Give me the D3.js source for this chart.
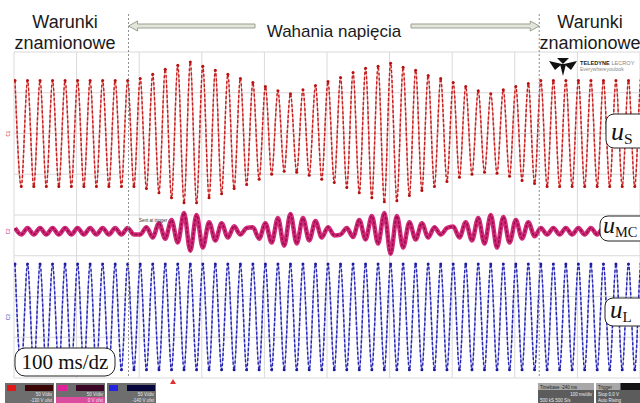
<!DOCTYPE html>
<html lang="pl">
<head>
<meta charset="UTF-8">
<title>Wahania napięcia</title>
<script src="https://d3js.org/d3.v7.min.js"></script>
<style>
  body { margin: 0; background: #fff; }
  svg { display: block; }
  .title { font-family: "Liberation Sans", Arial, sans-serif; fill: #1a1a1a; }
  .lbl { font-family: "Liberation Serif", "Times New Roman", serif; fill: #111; }
  .tiny { font-family: "Liberation Sans", Arial, sans-serif; font-size: 4.5px; }
</style>
</head>
<body>
<svg width="640" height="403"></svg>
<script>
// 50 Hz mains, 100 ms/div, 10 divisions on screen
var periodMs = 20, phaseMs = 1.6, voltsPerDiv = 250;

// u_S: positive and negative peak of each cycle [V]
var sPeaks = [325, 325, 325, 325, 325, 325, 325, 325, 325, 325,
  338, 363, 394, 419, 438, 413, 388, 363, 338, 313,
  288, 263, 244, 269, 294, 319, 344, 375, 400, 413,
  431, 406, 388, 356, 338, 313, 288, 263, 244, 269,
  288, 306, 325, 325, 325, 325, 325, 325, 325, 325, 325];
var sTroughs = [-325, -325, -325, -325, -325, -325, -325, -325, -325, -325,
  -338, -363, -394, -425, -425, -394, -369, -338, -313, -281,
  -250, -231, -238, -256, -281, -300, -331, -363, -394, -419,
  -413, -381, -350, -325, -294, -269, -250, -238, -244, -263,
  -288, -306, -325, -325, -325, -325, -325, -325, -325, -325, -325];

// u_L: load voltage stays at nominal
var lPeaks = [325, 325, 325, 325, 325, 325, 325, 325, 325, 325,
  325, 325, 325, 325, 325, 325, 325, 325, 325, 325,
  325, 325, 325, 325, 325, 325, 325, 325, 325, 325,
  325, 325, 325, 325, 325, 325, 325, 325, 325, 325,
  325, 325, 325, 325, 325, 325, 325, 325, 325, 325, 325];
var lTroughs = [-325, -325, -325, -325, -325, -325, -325, -325, -325, -325,
  -325, -325, -325, -325, -325, -325, -325, -325, -325, -325,
  -325, -325, -325, -325, -325, -325, -325, -325, -325, -325,
  -325, -325, -325, -325, -325, -325, -325, -325, -325, -325,
  -325, -325, -325, -325, -325, -325, -325, -325, -325, -325, -325];

// u_MC: compensator voltage, sampled at the u_S peak and trough instants [V]
var mcAtPeak = [20, 20, 20, 20, 20, 20, 20, 20, 20, 20,
  -20, -38, -45, -69, -119, -100, -56, -38, -20, 25,
  50, 81, 106, 81, 63, 25, -20, -35, -50, -75,
  -138, -100, -50, -38, -20, 30, 56, 81, 100, 88,
  69, 56, 20, 20, 20, 20, 20, 20, 20, 20, 20];
var mcAtTrough = [-20, -20, -20, -20, -20, -20, -20, -20, -20, -20,
  25, 50, 69, 113, 100, 56, 50, 31, 20, -45,
  -69, -88, -75, -56, -38, -25, 20, 69, 94, 113,
  94, 56, 50, 25, 20, -38, -56, -75, -100, -69,
  -44, -30, -20, -20, -20, -20, -20, -20, -20, -20, -20];

var topTexts = ["Warunki", "znamionowe"];
var middleText = "Wahania napięcia";

var svg = d3.select("svg");

var plot = {left: 14, right: 640, top: 52, bottom: 378};
var x = d3.scaleLinear().domain([0, 1000]).range([plot.left, plot.right]);
var yDiv = d3.scaleLinear().domain([0, 8]).range([plot.top, plot.bottom]);
var divPx = yDiv(1) - yDiv(0);

function channelScale(centerDiv) {
    var c = yDiv(centerDiv);
    return d3.scaleLinear().domain([-voltsPerDiv, voltsPerDiv]).range([c + divPx, c - divPx]);
}
var yS = channelScale(2.0), yMC = channelScale(4.4), yL = channelScale(6.5);

// grid
var grid = svg.append("g");
grid.selectAll(".vx").data(d3.range(0, 1001, 100)).enter().append("line")
    .attr("x1", d => x(d)).attr("x2", d => x(d))
    .attr("y1", plot.top).attr("y2", plot.bottom)
    .attr("stroke", "#d9d9d9").attr("stroke-width", 1);
grid.selectAll(".hy").data(d3.range(0, 9)).enter().append("line")
    .attr("x1", plot.left).attr("x2", plot.right)
    .attr("y1", d => yDiv(d)).attr("y2", d => yDiv(d))
    .attr("stroke", "#d9d9d9").attr("stroke-width", 1);

svg.append("defs").append("clipPath").attr("id", "clip")
    .append("rect").attr("x", plot.left).attr("y", plot.top)
    .attr("width", plot.right - plot.left).attr("height", plot.bottom - plot.top);

function samples(peaks, troughs) {
    var pts = [];
    peaks.forEach(function(p, k) {
        pts.push([phaseMs + periodMs * k, p]);
        pts.push([phaseMs + periodMs * k + periodMs / 2, troughs[k]]);
    });
    return pts;
}

function drawTrace(pts, ys, light, dark, lightW, darkW, dash) {
    var line = d3.line().x(d => x(d[0])).y(d => ys(d[1])).curve(d3.curveMonotoneX);
    var g = svg.append("g").attr("clip-path", "url(#clip)");
    g.append("path").attr("d", line(pts)).attr("fill", "none")
        .attr("stroke", light).attr("stroke-width", lightW);
    g.append("path").attr("d", line(pts)).attr("fill", "none")
        .attr("stroke", dark).attr("stroke-width", darkW)
        .attr("stroke-dasharray", dash);
    return g;
}

var sPts = samples(sPeaks, sTroughs);
var gS = drawTrace(sPts, yS, "#ec9696", "#c41f1f", 1.5, 1.4, "3,2");
gS.selectAll("circle").data(sPts).enter().append("circle")
    .attr("cx", d => x(d[0])).attr("cy", d => yS(d[1])).attr("r", 1.5).attr("fill", "#b80f0f");

var lPts = samples(lPeaks, lTroughs);
var gL = drawTrace(lPts, yL, "#9c9cea", "#2626b0", 1.5, 1.4, "3,2");
gL.selectAll("circle").data(lPts).enter().append("circle")
    .attr("cx", d => x(d[0])).attr("cy", d => yL(d[1])).attr("r", 1.5).attr("fill", "#1c1ca0");

var mcPts = samples(mcAtPeak, mcAtTrough);
drawTrace(mcPts, yMC, "#d02a78", "#98094a", 4.5, 1.4, "3,1.5");

// dashed markers of the disturbance interval
var marks = [183, 839];
svg.selectAll(".mark").data(marks).enter().append("line")
    .attr("x1", d => x(d)).attr("x2", d => x(d))
    .attr("y1", 14).attr("y2", plot.bottom)
    .attr("stroke", "#8c8c8c").attr("stroke-width", 1).attr("stroke-dasharray", "2,2");

// titles
function twoLine(cx) {
    svg.append("text").attr("class", "title").attr("x", cx).attr("y", 28)
        .attr("text-anchor", "middle").style("font-size", "18px").text(topTexts[0]);
    svg.append("text").attr("class", "title").attr("x", cx).attr("y", 49)
        .attr("text-anchor", "middle").style("font-size", "18px").text(topTexts[1]);
}
twoLine(65);
twoLine(590);
svg.append("text").attr("class", "title").attr("x", 334).attr("y", 37)
    .attr("text-anchor", "middle").style("font-size", "17px").text(middleText);

// arrows
function arrow(tip, tail, yy) {
    var s = tail > tip ? 1 : -1, h = 9;
    var pts = [[tip, yy], [tip + s * h, yy - 5], [tip + s * h, yy - 2], [tail, yy - 2],
               [tail, yy + 2], [tip + s * h, yy + 2], [tip + s * h, yy + 5]];
    svg.append("polygon").attr("points", pts.map(p => p.join(",")).join(" "))
        .attr("fill", "#e2e5da").attr("stroke", "#9aa090").attr("stroke-width", 1);
}
arrow(x(183), 255, 26);
arrow(x(839), 411, 26);

// logo
var logo = svg.append("g").attr("fill", "#111");
logo.append("path").attr("d", "M549,61 L562,64 L555,70 Z");
logo.append("path").attr("d", "M577,61 L564,64 L571,70 Z");
logo.append("path").attr("d", "M560,64 L566,64 L563,76 Z");
logo.append("path").attr("d", "M557,58 L569,58 L563,64 Z");
svg.append("text").attr("x", 580).attr("y", 65).style("font-family", "Liberation Sans, Arial")
    .style("font-size", "5.6px").style("font-weight", "bold").attr("fill", "#222")
    .text("TELEDYNE ").append("tspan").attr("fill", "#888").style("font-weight", "normal").text("LECROY");
svg.append("text").attr("x", 580).attr("y", 71).style("font-family", "Liberation Sans, Arial")
    .style("font-size", "5px").attr("fill", "#888").text("Everywhereyoulook");

// channel name boxes
function nameBox(bx, by, bw, bh, sub, fs, tx) {
    svg.append("rect").attr("x", bx).attr("y", by).attr("width", bw).attr("height", bh)
        .attr("rx", 8).attr("fill", "#fff").attr("stroke", "#222").attr("stroke-width", 1);
    var t = svg.append("text").attr("class", "lbl").attr("x", bx + tx).attr("y", by + bh - 8)
        .style("font-size", fs + "px");
    t.append("tspan").style("font-style", "italic").text("u");
    t.append("tspan").attr("dy", 4).style("font-size", (fs * 0.6) + "px").text(sub);
}
nameBox(606, 114, 44, 34, "S", 26, 5);
nameBox(600, 216, 50, 25, "MC", 24, 3);
nameBox(605, 298, 45, 28, "L", 25, 5);

// timebase label
svg.append("rect").attr("x", 15).attr("y", 348).attr("width", 100).attr("height", 28)
    .attr("rx", 10).attr("fill", "#fff").attr("stroke", "#222").attr("stroke-width", 1);
svg.append("text").attr("class", "lbl").attr("x", 65).attr("y", 369)
    .attr("text-anchor", "middle").style("font-size", "21px").text("100 ms/dz");

// small annotations
svg.append("text").attr("class", "tiny").attr("x", 139).attr("y", 222).attr("fill", "#333")
    .text("Sent at trigger");
var tags = [[yS(0), "#d02020", "C1"], [yMC(0), "#d0207a", "C2"], [yL(0), "#2a2ab4", "C3"]];
tags.forEach(function(t) {
    svg.append("text").attr("class", "tiny").attr("fill", t[1])
        .attr("transform", "translate(10," + (t[0] + 3) + ") rotate(-90)").text(t[2]);
});
svg.append("path").attr("d", "M170,384 L173,379 L176,384 Z").attr("fill", "#e03030");

// bottom status panels
var chPanels = [["#e01818", "#3a0606", "50 V/div", "-130 V ofst"],
                ["#e02098", "#3c0626", "50 V/div", "0 V ofst"],
                ["#2424e0", "#06063c", "50 V/div", "-140 V ofst"]];
chPanels.forEach(function(c, i) {
    var px = 5 + i * 51;
    svg.append("rect").attr("x", px).attr("y", 383).attr("width", 49).attr("height", 20).attr("fill", "#6e6e6e");
    svg.append("rect").attr("x", px + 2).attr("y", 385).attr("width", 9).attr("height", 6).attr("fill", c[0]);
    svg.append("rect").attr("x", px + 20).attr("y", 385).attr("width", 28).attr("height", 6).attr("fill", c[1]);
    if (i === 1) svg.append("rect").attr("x", px).attr("y", 397).attr("width", 49).attr("height", 6).attr("fill", "#d94c9e");
    svg.append("text").attr("class", "tiny").attr("x", px + 47).attr("y", 396).attr("text-anchor", "end")
        .attr("fill", "#e8e8e8").text(c[2]);
    svg.append("text").attr("class", "tiny").attr("x", px + 47).attr("y", 402).attr("text-anchor", "end")
        .attr("fill", "#e8e8e8").text(c[3]);
});
svg.append("rect").attr("x", 538).attr("y", 383).attr("width", 56).attr("height", 20).attr("fill", "#5c5c5c");
svg.append("rect").attr("x", 538).attr("y", 383).attr("width", 56).attr("height", 7).attr("fill", "#a8a8a8");
svg.append("text").attr("class", "tiny").attr("x", 540).attr("y", 388.5).attr("fill", "#222").text("Timebase  -240 ms");
svg.append("text").attr("class", "tiny").attr("x", 592).attr("y", 395.5).attr("text-anchor", "end").attr("fill", "#eee").text("100 ms/div");
svg.append("text").attr("class", "tiny").attr("x", 540).attr("y", 401.5).attr("fill", "#eee").text("500 kS   500 S/s");
svg.append("rect").attr("x", 596).attr("y", 383).attr("width", 44).attr("height", 20).attr("fill", "#5c5c5c");
svg.append("rect").attr("x", 596).attr("y", 383).attr("width", 24).attr("height", 7).attr("fill", "#a8a8a8");
svg.append("rect").attr("x", 621).attr("y", 383).attr("width", 19).attr("height", 7).attr("fill", "#151515");
svg.append("text").attr("class", "tiny").attr("x", 598).attr("y", 388.5).attr("fill", "#222").text("Trigger");
svg.append("text").attr("class", "tiny").attr("x", 598).attr("y", 395.5).attr("fill", "#eee").text("Stop     0.0 V");
svg.append("text").attr("class", "tiny").attr("x", 598).attr("y", 401.5).attr("fill", "#eee").text("Auto   Rising");
</script>
</body>
</html>
